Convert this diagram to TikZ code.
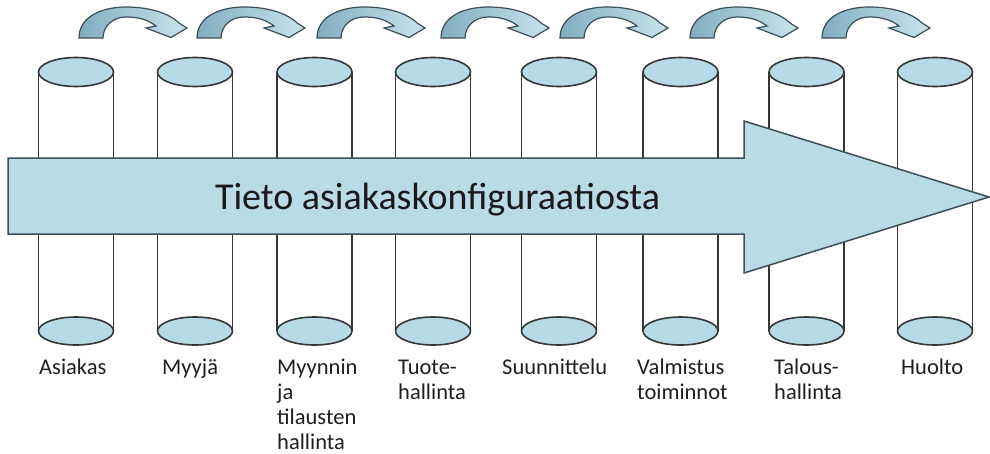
\documentclass[tikz,border=0pt]{standalone}
\usepackage{fontspec}
\setmainfont{Carlito}
\definecolor{linec}{RGB}{55,55,55}
\definecolor{ellfill}{RGB}{183,219,230}
\definecolor{arrowfill}{RGB}{184,219,229}
\definecolor{arrowline}{RGB}{60,78,86}
\definecolor{cadark}{RGB}{130,174,192}
\definecolor{calight}{RGB}{200,228,237}
\tikzset{
  cylline/.style={draw=linec, line width=1.7pt},
  cylend/.style={draw=linec, line width=1.6pt, fill=ellfill},
  bigarrow/.style={draw=arrowline, line width=1.5pt, fill=arrowfill},
  bendarrow/.style={draw=arrowline, line width=1.2pt, left color=cadark, right color=calight},
  lbl/.style={anchor=base west, inner sep=0pt, font=\fontsize{22.5}{25}\selectfont, text=black!88},
  maintext/.style={anchor=base, inner sep=0pt, font=\fontsize{38}{42}\selectfont, text=black!90}
}
\newcommand{\lines}[1]{\begin{tabular}[t]{@{}l@{}}#1\end{tabular}}
\begin{document}
\begin{tikzpicture}[x=1pt,y=-1pt]
\useasboundingbox (0,0) rectangle (990,453);
% cylinders
\foreach \cx/\nm in {76/c1,195/c2,314.5/c3,433/c4,559/c5,680.5/c6,806.5/c7,935/c8}{
  \coordinate (\nm) at (\cx,200);
  \draw[cylline] (\cx-37.5,72) -- (\cx-37.5,331);
  \draw[cylline] (\cx+37.5,72) -- (\cx+37.5,331);
  \draw[cylend] (\cx,72) ellipse [x radius=37.5pt, y radius=14.5pt];
  \draw[cylend] (\cx,331) ellipse [x radius=37.5pt, y radius=14pt];
}
% big arrow
\draw[bigarrow] (8,158) -- (744,158) -- (744,121) -- (989,197) -- (744,273) -- (744,234) -- (8,234) -- cycle;
\node[maintext] (info) at (437.5,209) {Tieto asiakaskonfiguraatiosta};
% bent arrows
\foreach \x/\nm in {79/a1,197/a2,317/a3,441/a4,560/a5,690/a6,822/a7}{
  \draw[bendarrow, shift={(\x,0)}] (0,38) .. controls (0,16) and (24,7) .. (47,7)
     .. controls (70,7) and (90,13) .. (100,23) -- (108,28) -- (92,37.5) -- (67,28) -- (77,26)
     .. controls (68,19) and (58,17) .. (47,17) .. controls (34,17) and (24,26) .. (24,38) -- cycle;
  \coordinate (\nm) at (\x+50,20);
}
% labels
\begin{scope}[every node/.append style={lbl}]
\renewcommand{\arraystretch}{1}
\node (l1) at (39,374) {\lines{Asiakas}};
\node (l2) at (162,374) {\lines{Myyjä}};
\node (l3) at (277,374) {\lines{Myynnin\\ja\\tilausten\\hallinta}};
\node (l4) at (398,374) {\lines{Tuote-\\hallinta}};
\node (l5) at (502,374) {\lines{Suunnittelu}};
\node (l6) at (637,374) {\lines{Valmistus\\toiminnot}};
\node (l7) at (774,374) {\lines{Talous-\\hallinta}};
\node (l8) at (901,374) {\lines{Huolto}};
\end{scope}
\end{tikzpicture}
\end{document}
